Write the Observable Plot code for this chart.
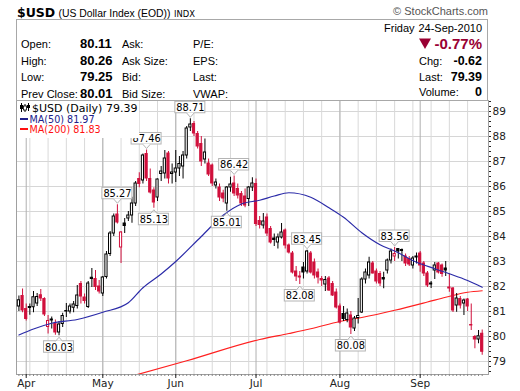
<!DOCTYPE html>
<html><head><meta charset="utf-8">
<script src="https://cdn.jsdelivr.net/npm/d3@7"></script>
<script src="https://cdn.jsdelivr.net/npm/@observablehq/plot@0.6"></script>
<style>
body{margin:0;background:#fff;}
#wrap{position:relative;width:520px;height:391px;overflow:hidden;}
#chart{position:absolute;left:0;top:96px;}
#over{position:absolute;left:0;top:0;pointer-events:none;}
.lab{font-family:"Liberation Sans",Arial,sans-serif;font-size:11px;fill:#000;}
.val{font-family:"Liberation Sans",Arial,sans-serif;font-size:13px;font-weight:bold;fill:#000;}
.rv{font-family:"Liberation Sans",Arial,sans-serif;font-size:12.5px;font-weight:bold;fill:#000;text-anchor:end;}
</style></head><body>
<div id="wrap">
<div id="chart"></div>
<svg id="over" width="520" height="140">
  <text x="17" y="16.5" font-family="DejaVu Sans" font-weight="bold" font-size="12.5">$USD</text>
  <text x="58.5" y="16.5" class="lab" style="font-size:10.4px">(US Dollar Index (EOD))</text>
  <text x="174" y="16.5" font-family="DejaVu Sans" font-size="8.4">INDX</text>
  <text x="488" y="15" font-family="Liberation Sans" font-size="11" fill="#555" text-anchor="end">© StockCharts.com</text>
  <rect x="16.5" y="19.5" width="471" height="81" fill="none" stroke="#a8a8a8"/>
  <text x="21" y="48" class="lab">Open:</text>
  <text x="21" y="64.5" class="lab">High:</text>
  <text x="21" y="81" class="lab">Low:</text>
  <text x="21" y="97.5" class="lab">Prev Close:</text>
  <text x="80" y="48" class="val">80.11</text>
  <text x="80" y="64.5" class="val">80.26</text>
  <text x="80" y="81" class="val">79.25</text>
  <text x="80" y="97.5" class="val">80.01</text>
  <text x="122" y="48" class="lab">Ask:</text>
  <text x="122" y="64.5" class="lab">Ask Size:</text>
  <text x="122" y="81" class="lab">Bid:</text>
  <text x="122" y="97.5" class="lab">Bid Size:</text>
  <text x="193" y="48" class="lab">P/E:</text>
  <text x="193" y="64.5" class="lab">EPS:</text>
  <text x="193" y="81" class="lab">Last:</text>
  <text x="193" y="97.5" class="lab">VWAP:</text>
  <text x="384" y="32" class="lab">Friday</text>
  <text x="482" y="32" class="lab" text-anchor="end">24-Sep-2010</text>
  <polygon points="419,38.5 431,38.5 425,49" fill="#990033"/>
  <text x="482" y="49" font-family="Liberation Sans" font-weight="bold" font-size="15" fill="#990033" text-anchor="end">-0.77%</text>
  <text x="419" y="65" class="lab">Chg:</text>
  <text x="482" y="65" class="rv">-0.62</text>
  <text x="419" y="80.5" class="lab">Last:</text>
  <text x="482" y="80.5" class="rv">79.39</text>
  <text x="419" y="96" class="lab">Volume:</text>
  <text x="482" y="96" class="rv">0</text>
  <rect x="17" y="101" width="122" height="37" fill="#fff"/>
  <path d="M21.5 103v9M25 104v8M28.5 103v8" stroke="#000" stroke-width="1"/>
  <rect x="20" y="105" width="3" height="4" fill="#000"/>
  <rect x="23.5" y="106" width="3" height="4" fill="#fff" stroke="#000" stroke-width="0.8"/>
  <rect x="27" y="105" width="3" height="3" fill="#000"/>
  <text x="32" y="111.5" font-family="DejaVu Sans" font-size="11" fill="#000">$USD (Daily) 79.39</text>
  <rect x="20" y="118" width="8" height="2" fill="#20208a"/>
  <text x="29.5" y="122.5" font-family="DejaVu Sans" font-size="9.6" fill="#20208a">MA(50) 81.97</text>
  <rect x="20" y="128" width="8" height="2" fill="#ff1010"/>
  <text x="29.5" y="132.5" font-family="DejaVu Sans" font-size="9.6" fill="#ff1010">MA(200) 81.83</text>
</svg>
</div>
<script>
// Daily candles (trading-day index 0 = 30-Mar-2010 ... 127 = 24-Sep-2010)
const open  = [81.20,81.62,81.10,81.18,81.17,81.32,81.65,81.50,80.38,80.68,80.50,80.16,80.50,81.00,81.00,81.15,81.22,82.10,81.56,81.18,82.35,82.30,82.00,81.72,82.38,83.30,84.12,84.88,83.56,84.52,84.72,84.84,85.32,86.30,86.24,87.30,86.30,85.84,85.56,86.50,86.52,87.32,86.50,86.56,86.72,86.80,87.24,88.36,88.50,88.10,87.70,87.08,86.92,86.84,86.04,85.96,85.72,85.32,85.96,86.12,85.90,85.70,85.60,85.50,85.96,86.10,84.62,84.44,84.76,84.30,83.92,83.76,83.96,84.24,83.64,83.32,82.60,82.40,82.76,82.60,83.32,82.96,82.56,82.30,82.08,82.32,82.10,81.76,81.20,80.90,80.66,80.84,80.32,80.74,80.96,82.28,82.44,82.92,82.60,82.50,82.34,82.64,83.04,83.20,83.50,83.46,83.20,83.10,82.84,83.20,83.32,82.92,82.52,82.12,82.64,82.92,82.84,82.72,81.96,81.92,81.24,81.50,81.32,81.48,80.46,79.98,79.88,80.11];
const high  = [81.62,81.90,81.30,81.30,81.80,81.72,81.88,81.55,80.84,80.78,80.66,80.60,80.93,81.32,81.30,81.40,82.04,82.20,81.70,82.20,82.72,82.64,82.24,82.40,83.40,84.20,84.90,85.27,84.20,84.72,85.00,85.57,86.20,86.55,87.30,87.46,86.70,85.95,86.30,86.80,87.44,87.40,86.90,87.44,87.20,87.40,88.40,88.71,88.60,88.20,88.00,87.90,87.10,86.90,86.30,86.10,85.85,86.00,86.37,86.42,86.10,85.80,85.90,86.00,86.35,86.30,84.80,84.92,84.90,84.40,84.10,84.10,84.52,84.30,83.70,83.40,82.80,82.60,82.96,83.45,83.40,83.10,82.70,82.40,82.40,82.40,82.20,81.90,81.30,81.20,81.10,81.00,80.80,81.52,82.35,82.70,83.17,83.00,82.70,82.60,82.57,83.10,83.50,83.56,83.52,83.50,83.30,83.20,83.20,83.34,83.40,83.00,82.60,82.20,82.96,82.96,82.90,83.00,82.51,81.96,81.72,81.60,81.50,81.52,81.30,80.04,80.24,80.26];
const low   = [81.00,80.95,80.62,80.85,80.95,81.20,81.40,80.80,80.10,80.30,80.05,80.03,80.36,80.76,80.90,80.95,81.10,81.30,81.30,81.12,81.96,81.84,81.70,81.60,82.30,83.20,84.00,84.50,82.92,84.12,84.60,84.53,85.20,85.95,86.10,86.20,85.70,85.13,85.40,86.20,86.30,86.10,86.10,86.16,86.40,86.30,87.10,88.20,88.00,87.50,86.80,86.90,86.40,86.00,85.90,85.40,85.35,85.01,85.77,85.60,85.50,85.20,85.15,85.20,85.80,84.40,84.30,84.30,84.00,83.70,83.60,83.50,83.90,83.50,83.30,82.50,82.20,82.08,82.30,82.50,82.50,82.30,82.10,82.00,81.80,81.80,81.60,81.10,80.50,80.60,80.55,80.08,80.20,80.50,80.92,82.10,82.30,82.50,82.10,82.00,81.91,82.50,82.90,83.00,83.10,83.00,82.80,82.80,82.70,82.90,82.57,82.40,81.96,81.92,82.28,82.50,82.37,82.40,81.77,80.96,80.97,81.10,80.84,81.00,80.24,79.51,79.71,79.25];
const close = [81.45,81.04,80.70,81.14,81.57,81.58,81.52,80.88,80.62,80.64,80.16,80.48,80.82,81.02,81.20,81.28,81.64,81.60,81.42,82.12,82.30,81.98,81.80,82.36,83.28,84.12,84.80,84.56,84.16,84.42,84.84,85.32,86.12,86.10,87.24,86.32,85.76,85.36,86.28,86.60,87.12,86.32,86.56,86.72,86.90,87.24,88.32,88.48,88.12,87.60,87.00,87.36,86.48,86.12,86.16,85.56,85.52,85.96,86.08,85.72,85.64,85.32,85.24,85.96,86.12,84.50,84.46,84.60,84.12,83.76,83.86,83.96,84.16,83.64,83.36,82.56,82.40,82.36,82.56,83.40,82.56,82.44,82.36,82.24,82.26,81.84,81.64,81.16,80.56,80.70,80.92,80.36,80.72,80.82,82.28,82.56,82.96,82.52,82.20,82.12,82.28,83.04,83.40,83.30,83.40,83.42,82.92,82.88,83.12,83.16,82.84,82.52,82.04,82.08,82.84,82.56,82.50,82.64,81.92,81.04,81.52,81.24,81.44,81.20,80.44,79.88,80.01,79.39];

// Moving averages read at selected trading-day indices
const ma50Idx  = [0,4,9,16,23,30,34,39,43,50,56,61,66,70,74,80,85,89,94,99,103,109,114,118,123,127];
const ma50Val  = [80.06,80.30,80.53,80.68,80.97,81.35,81.95,82.50,83.00,84.00,84.85,85.30,85.45,85.62,85.75,85.57,85.15,84.77,84.15,83.67,83.42,82.97,82.71,82.51,82.24,81.97];
const ma200Idx = [32,46,66,74,80,88,94,103,112,117,123,127];
const ma200Val = [78.46,79.03,79.88,80.12,80.31,80.60,80.76,81.05,81.38,81.57,81.77,81.83];

// Peak / trough annotations
const labelIdx  = [11,27,35,37,47,57,59,77,79,91,103];
const labelVal  = [80.03,85.27,87.46,85.13,88.71,85.01,86.42,82.08,83.45,80.08,83.56];
const labelSide = ["low","high","high","low","high","low","high","low","high","low","high"];

// Axes
const priceTicks = [79,80,81,82,83,84,85,86,87,88,89];
const monthIdx   = [2,23,43,65,88,110];
const monthNames = ["Apr","May","Jun","Jul","Aug","Sep"];
const weekIdx    = d3.range(3, 128, 5);

const RED = "#d0103c", BLK = "#000";
const candles = open.map((o, i) => ({i, o, h: high[i], l: low[i], c: close[i],
  up: close[i] >= o, red: i > 0 && close[i] < close[i-1]}));
const col = d => d.red ? RED : BLK;
const ma50 = ma50Idx.map((i, k) => ({i, v: ma50Val[k]}));
const ma200 = ma200Idx.map((i, k) => ({i, v: ma200Val[k]}));
const labels = labelIdx.map((i, k) => ({i, v: labelVal[k], hi: labelSide[k] === "high"}));
const monthName = new Map(monthIdx.map((d, k) => [d, monthNames[k]]));
const minorTicks = d3.range(78.6, 89.41, 0.2).map(v => +v.toFixed(1)).filter(v => !Number.isInteger(v));

const W = 520, H = 295, mL = 16, mR = 32, mT = 4, mB = 17;
const xDom = [-0.66, 128.73], yDom = [78.48, 89.44];
const ux = (xDom[1]-xDom[0]) / (W - mL - mR);   // index units per pixel
const uy = (yDom[1]-yDom[0]) / (H - mT - mB);   // price units per pixel
const bw = 15*ux, bh = 11.5*uy, gap = 5.5*uy, tip = 1.5*uy, nw = 3.5*ux;
const by1 = d => d.hi ? d.v + gap : d.v - gap;
const by2 = d => d.hi ? d.v + gap + bh : d.v - gap - bh;
const vpts = labels.flatMap((d, k) => [
  {k, x: d.i - nw, y: by1(d)}, {k, x: d.i, y: d.hi ? d.v + tip : d.v - tip}, {k, x: d.i + nw, y: by1(d)}]);
const wpts = labels.flatMap((d, k) => [{k, x: d.i - nw + 0.3*ux, y: by1(d)}, {k, x: d.i + nw - 0.3*ux, y: by1(d)}]);

const chart = Plot.plot({
  width: W, height: H, marginLeft: mL, marginRight: mR, marginTop: mT, marginBottom: mB,
  x: {type: "linear", domain: xDom, axis: null},
  y: {domain: yDom, axis: null},
  color: {type: "identity"},
  style: {fontFamily: "DejaVu Sans", fontSize: "10px", background: "transparent", color: "#222", overflow: "visible"},
  marks: [
    Plot.ruleY(priceTicks, {stroke: "#d6d6d6"}),
    Plot.ruleX(weekIdx, {stroke: "#d9d9d9"}),
    Plot.ruleX(monthIdx, {stroke: "#b0b0b0"}),
    Plot.frame({stroke: "#a0a0a0"}),
    Plot.axisY(priceTicks, {anchor: "right", tickSize: 2, tickPadding: 2, fontSize: 10.5, label: null}),
    Plot.axisY(minorTicks, {anchor: "right", tickSize: 2, tickFormat: () => "", label: null}),
    Plot.axisX(d3.range(0, 128), {anchor: "bottom", tickSize: 2, tickFormat: () => "", label: null, stroke: "#888"}),
    Plot.axisX(monthIdx, {anchor: "bottom", tickSize: 4, tickPadding: 1, fontSize: 10.5, tickFormat: d => monthName.get(d), label: null}),
    Plot.line(ma200, {x: "i", y: "v", stroke: "#ff2020", strokeWidth: 1.2, curve: "monotone-x", clip: true}),
    Plot.ruleX(candles, {x: "i", y1: "l", y2: "h", stroke: col, strokeWidth: 1}),
    Plot.rect(candles, {x1: d => d.i - 0.3, x2: d => d.i + 0.3, y1: "o", y2: "c",
      fill: d => d.up ? "#fff" : col(d), stroke: col, strokeWidth: 1}),
    Plot.line(ma50, {x: "i", y: "v", stroke: "#2b2ba8", strokeWidth: 1.2, curve: "monotone-x"}),
    Plot.rect(labels, {x1: d => d.i - bw, x2: d => d.i + bw, y1: by1, y2: by2, fill: "#fff", stroke: "#b4b4b4"}),
    Plot.line(wpts, {x: "x", y: "y", z: "k", stroke: "#fff", strokeWidth: 1.5}),
    Plot.line(vpts, {x: "x", y: "y", z: "k", stroke: "#b4b4b4", strokeWidth: 1}),
    Plot.text(labels, {x: "i", y: d => (by1(d) + by2(d)) / 2, text: d => d.v.toFixed(2),
      fontSize: 9.8, fill: "#000", dy: 0.5})
  ]
});
document.getElementById("chart").appendChild(chart);
</script>
</body></html>
